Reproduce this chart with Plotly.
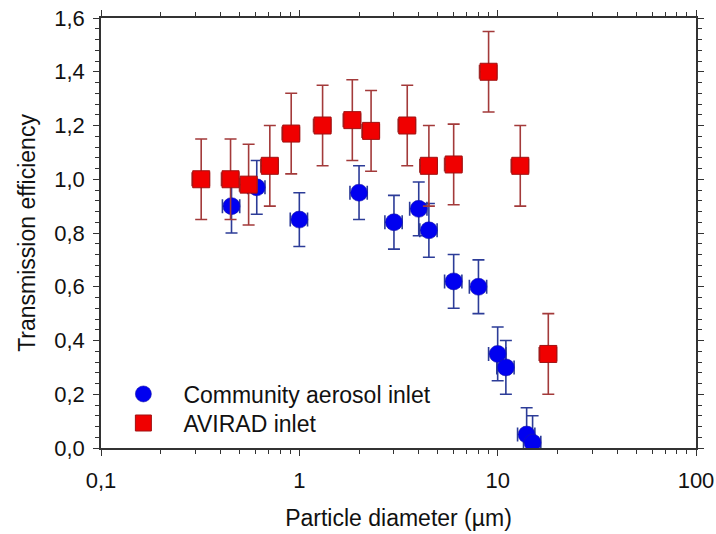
import plotly.graph_objects as go

# Community aerosol inlet
cai_d = [0.455, 0.61, 1.0, 2.0, 3.0, 4.0, 4.5, 6.0, 8.0, 10.0, 11.0, 14.0, 15.0]
cai_eff = [0.90, 0.97, 0.85, 0.95, 0.84, 0.89, 0.81, 0.62, 0.60, 0.35, 0.30, 0.05, 0.02]
cai_err = [0.10, 0.10, 0.10, 0.10, 0.10, 0.10, 0.10, 0.10, 0.10, 0.10, 0.10, 0.10, 0.10]

# AVIRAD inlet
avi_d = [0.32, 0.45, 0.555, 0.71, 0.91, 1.31, 1.85, 2.3, 3.5, 4.5, 6.0, 9.0, 13.0, 18.0]
avi_eff = [1.00, 1.00, 0.98, 1.05, 1.17, 1.20, 1.22, 1.18, 1.20, 1.05, 1.055, 1.40, 1.05, 0.35]
avi_err = [0.15, 0.15, 0.15, 0.15, 0.15, 0.15, 0.15, 0.15, 0.15, 0.15, 0.15, 0.15, 0.15, 0.15]

# relative size uncertainty (percent)
d_err_pct = 10

x_ticks = [0.1, 1, 10, 100]
x_ticktext = ["0,1", "1", "10", "100"]
x_minor = [m * 10.0 ** e for e in (-1, 0, 1) for m in range(2, 10)]

FONT = "Liberation Sans, Arial, sans-serif"
AX = "#333333"
TXT = "#111111"

fig = go.Figure()

fig.add_trace(go.Scatter(
    x=cai_d, y=cai_eff, mode="markers", name="Community aerosol inlet",
    legend="legend",
    marker=dict(symbol="circle", size=17, color="#0000f0",
                line=dict(color="#1a1aa8", width=0.6)),
    error_y=dict(type="data", array=cai_err, color="#2c3c98", thickness=1.6, width=6),
    error_x=dict(type="percent", value=d_err_pct, color="#2c3c98", thickness=1.6, width=7),
))

fig.add_trace(go.Scatter(
    x=avi_d, y=avi_eff, mode="markers", name="AVIRAD inlet",
    legend="legend2",
    marker=dict(symbol="square", size=17, color="#f00000",
                line=dict(color="#a01010", width=1)),
    error_y=dict(type="data", array=avi_err, color="#a33a3a", thickness=1.6, width=6),
    error_x=dict(type="percent", value=d_err_pct, color="#a33a3a", thickness=1.6, width=7),
))

common_x = dict(type="log", range=[-1, 2], showgrid=False, zeroline=False,
                showline=True, linecolor=AX, linewidth=1.5, mirror="ticks",
                tickmode="array", tickvals=x_ticks, automargin=False,
                ticklen=6, tickwidth=1.3, tickcolor=AX)
common_y = dict(range=[0, 1.6], showgrid=False, zeroline=False,
                showline=True, linecolor=AX, linewidth=1.5, mirror="ticks",
                tickmode="linear", tick0=0, dtick=0.2, automargin=False,
                ticklen=6, tickwidth=1.3, tickcolor=AX)

legend_style = dict(xanchor="left", yanchor="top", bgcolor="rgba(0,0,0,0)",
                    itemwidth=70, font=dict(family=FONT, size=23, color=TXT))

fig.update_layout(
    width=716, height=534,
    margin=dict(l=101, r=20, t=18, b=86),
    paper_bgcolor="white", plot_bgcolor="white",
    separators=",.",
    font=dict(family=FONT, size=22, color=TXT),
    showlegend=True,
    legend=dict(x=0.004, y=0.1756, **legend_style),
    legend2=dict(x=0.004, y=0.108, **legend_style),
    xaxis=dict(**common_x, ticks="outside", ticktext=x_ticktext,
               ticklabelstandoff=6,
               tickfont=dict(family=FONT, size=22, color=TXT),
               minor=dict(tickmode="array", tickvals=x_minor, ticks="outside",
                          ticklen=4, tickwidth=1.2, tickcolor=AX),
               title=dict(text="Particle diameter (µm)", standoff=18,
                          font=dict(family=FONT, size=23, color=TXT))),
    yaxis=dict(**common_y, ticks="outside", tickformat=".1f",
               ticklabelstandoff=4,
               tickfont=dict(family=FONT, size=22, color=TXT),
               minor=dict(dtick=0.04, tick0=0, ticks="outside",
                          ticklen=4, tickwidth=1.2, tickcolor=AX),
               title=dict(text="Transmission efficiency", standoff=12,
                          font=dict(family=FONT, size=23, color=TXT))),
    # inward halves of the crossing ticks
    xaxis2=dict(**common_x, overlaying="x", anchor="y", side="bottom",
                ticks="inside", showticklabels=False,
                minor=dict(tickmode="array", tickvals=x_minor, ticks="inside",
                           ticklen=4, tickwidth=1.2, tickcolor=AX)),
    yaxis2=dict(**common_y, overlaying="y", anchor="x", side="left",
                ticks="inside", showticklabels=False,
                minor=dict(dtick=0.04, tick0=0, ticks="inside",
                           ticklen=4, tickwidth=1.2, tickcolor=AX)),
)

fig.write_html("out.html")
